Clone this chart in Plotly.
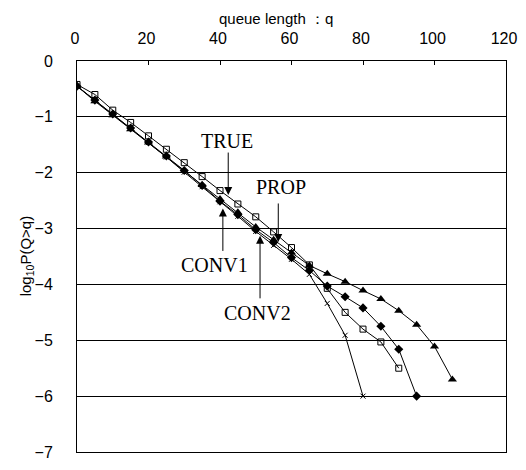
import plotly.graph_objects as go

# ---- data ----
q_true = [0, 5, 10, 15, 20, 25, 30, 35, 40, 45, 50, 55, 60, 65, 70, 75, 80, 85, 90]
v_true = [-0.42, -0.60, -0.88, -1.10, -1.34, -1.58, -1.82, -2.07, -2.32, -2.56,
          -2.79, -3.06, -3.34, -3.65, -4.07, -4.50, -4.80, -5.03, -5.50]

q_conv1 = [0, 5, 10, 15, 20, 25, 30, 35, 40, 45, 50, 55, 60, 65, 70, 75, 80, 85, 90, 95]
v_conv1 = [-0.45, -0.70, -0.95, -1.20, -1.45, -1.70, -1.96, -2.23, -2.51, -2.75,
           -3.02, -3.25, -3.52, -3.75, -4.03, -4.22, -4.42, -4.75, -5.16, -6.00]

q_conv2 = [0, 5, 10, 15, 20, 25, 30, 35, 40, 45, 50, 55, 60, 65, 70, 75, 80, 85, 90, 95, 100, 105]
v_conv2 = [-0.45, -0.72, -0.97, -1.22, -1.46, -1.71, -1.97, -2.22, -2.47, -2.71,
           -2.97, -3.20, -3.43, -3.66, -3.81, -3.95, -4.11, -4.26, -4.47, -4.72, -5.11, -5.70]

q_prop = [0, 5, 10, 15, 20, 25, 30, 35, 40, 45, 50, 55, 60, 65, 70, 75, 80]
v_prop = [-0.45, -0.71, -0.96, -1.21, -1.46, -1.72, -1.99, -2.25, -2.52, -2.78,
          -3.05, -3.30, -3.55, -3.82, -4.34, -4.91, -6.00]

x_ticks = [0, 20, 40, 60, 80, 100, 120]
y_ticks = [0, -1, -2, -3, -4, -5, -6, -7]

# labels and the points their arrows mark
labels = ["TRUE", "CONV1", "PROP", "CONV2"]
label_x = [41.9, 38.5, 57.0, 50.4]
label_y = [-1.43, -3.65, -2.26, -4.51]
tip_x = [42.3, 40.8, 56.3, 51.2]
tip_y = [-2.40, -2.64, -3.24, -3.13]

fig = go.Figure()
line = dict(color="black", width=1)
fig.add_trace(go.Scatter(x=q_prop, y=v_prop, mode="lines+markers", line=line,
                         marker=dict(symbol="x-thin", size=5,
                                     line=dict(color="black", width=1))))
fig.add_trace(go.Scatter(x=q_conv2, y=v_conv2, mode="lines+markers", line=line,
                         marker=dict(symbol="triangle-up", size=8, color="black")))
fig.add_trace(go.Scatter(x=q_conv1, y=v_conv1, mode="lines+markers", line=line,
                         marker=dict(symbol="diamond", size=7, color="black")))
fig.add_trace(go.Scatter(x=q_true, y=v_true, mode="lines+markers", line=line,
                         marker=dict(symbol="square-open", size=6, color="black",
                                     line=dict(width=1))))

serif = dict(family="Liberation Serif", size=20, color="black")
arrow_len = [-44, 44, -40, 64]
for lab, lx, ly, tx, ty, al in zip(labels, label_x, label_y, tip_x, tip_y, arrow_len):
    fig.add_annotation(x=lx, y=ly, text=lab, showarrow=False, font=serif)
    fig.add_annotation(x=tx, y=ty, text="", showarrow=True, arrowhead=2,
                       arrowsize=1.6, arrowwidth=1, arrowcolor="black",
                       ax=0, ay=al, standoff=0)

# axis titles (page body adds an 8px margin; plot area spans x 77..513 on screen)
fig.add_annotation(xref="paper", yref="paper", x=(279 - 77) / 436, y=1,
                   yanchor="middle", xanchor="center", yshift=43,
                   text="queue length \uff1aq", showarrow=False,
                   font=dict(family="Liberation Sans", size=15, color="black"))
fig.add_annotation(xref="paper", yref="paper", x=(26 - 77) / 436, y=0.5,
                   xanchor="center", yanchor="middle", textangle=-90,
                   text="log<sub>10</sub>P(Q&gt;q)", showarrow=False,
                   font=dict(family="Liberation Sans", size=15, color="black"))

fig.update_layout(
    width=518, height=462,
    margin=dict(l=69, r=13, t=53, b=9),
    paper_bgcolor="white", plot_bgcolor="white",
    showlegend=False,
    font=dict(family="Liberation Sans", size=16, color="black"),
    xaxis=dict(side="top", range=[0, 120], tickvals=x_ticks,
               showgrid=False, zeroline=False,
               showline=True, linecolor="black", linewidth=1, mirror=True,
               ticks="inside", ticklen=4, tickcolor="black",
               ticklabelstandoff=10, ticklabelshift=-2),
    yaxis=dict(range=[-7, 0], tickvals=y_ticks,
               showgrid=True, gridcolor="black", gridwidth=1, zeroline=False,
               showline=True, linecolor="black", linewidth=1, mirror=True,
               ticks="", ticklabelstandoff=20),
)

fig.write_html("out.html")
